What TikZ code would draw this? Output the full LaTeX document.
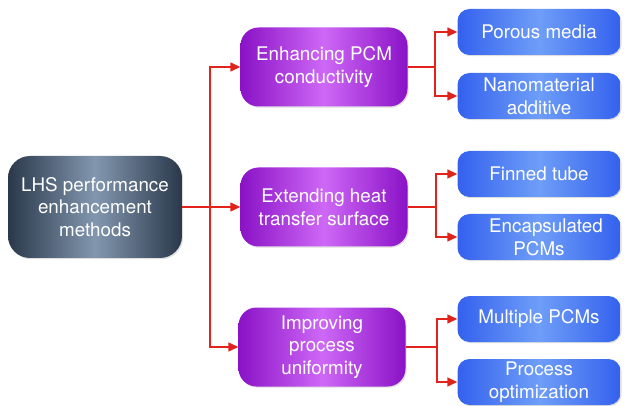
\documentclass[tikz,border=0pt]{standalone}
\usepackage{fontspec}
\setmainfont{TeX Gyre Heros}
\usetikzlibrary{arrows.meta,shadows}
\definecolor{linkred}{HTML}{E2231C}
\definecolor{rootedge}{HTML}{2A384A}
\definecolor{rootmid}{HTML}{8297AF}
\definecolor{purpedge}{HTML}{8A12C6}
\definecolor{purpmid}{HTML}{CE68F6}
\definecolor{blueedge}{HTML}{3461EE}
\definecolor{bluemid}{HTML}{6E9EF8}
\tikzset{
  boxbase/.style={text=white, align=center, font=\fontsize{18.8}{22.8}\selectfont,
    inner sep=0pt, drop shadow={opacity=0.25, shadow xshift=1.2pt, shadow yshift=-1.2pt}},
  rootbox/.style={boxbase, rounded corners=22pt, minimum width=174pt, minimum height=102pt,
    left color=rootedge, right color=rootedge, middle color=rootmid},
  groupbox/.style={boxbase, rounded corners=18pt, minimum width=167pt, minimum height=79pt,
    left color=purpedge, right color=purpedge, middle color=purpmid},
  leafbox/.style={boxbase, rounded corners=12pt, minimum width=163pt, minimum height=46pt,
    left color=blueedge, right color=blueedge, middle color=bluemid},
  link/.style={draw=linkred, line width=1.4pt},
  arrowlink/.style={link, -{Triangle[length=10pt,width=9pt]}}
}
\begin{document}
\begin{tikzpicture}[x=1pt,y=-1pt]
  \useasboundingbox (0,0) rectangle (624,406);

  % root
  \node[rootbox] (root) at (95,207) {LHS performance\\enhancement\\methods};

  % middle level
  \node[groupbox] (g1) at (324,67) {Enhancing PCM\\conductivity};
  \node[groupbox] (g2) at (324,207) {Extending heat\\transfer surface};
  \node[groupbox] (g3) at (322,347) {Improving\\process\\uniformity};

  % leaves
  \node[leafbox] (l1) at (539,32) {Porous media};
  \node[leafbox] (l2) at (539,96) {Nanomaterial\\additive};
  \node[leafbox] (l3) at (539,174) {Finned tube};
  \node[leafbox] (l4) at (539,237) {\hspace*{14pt}Encapsulated\\PCMs};
  \node[leafbox] (l5) at (539,319) {Multiple PCMs};
  \node[leafbox] (l6) at (539,382) {Process\\optimization};

  % junction points
  \coordinate (j0) at (210,207);
  \coordinate (j1) at (435,67);
  \coordinate (j2) at (436,207);
  \coordinate (j3) at (437,347);

  % root to middle level
  \draw[link] (root.east) -- (j0);
  \draw[arrowlink] (j0) |- (g1.west);
  \draw[arrowlink] (j0) -- (g2.west);
  \draw[arrowlink] (j0) |- (g3.west);

  % middle level to leaves
  \draw[link] (g1.east) -- (j1);
  \draw[arrowlink] (j1) |- (l1.west);
  \draw[arrowlink] (j1) |- (l2.west);
  \draw[link] (g2.east) -- (j2);
  \draw[arrowlink] (j2) |- (l3.west);
  \draw[arrowlink] (j2) |- (l4.west);
  \draw[link] (g3.east) -- (j3);
  \draw[arrowlink] (j3) |- (l5.west);
  \draw[arrowlink] (j3) |- (l6.west);
\end{tikzpicture}
\end{document}
